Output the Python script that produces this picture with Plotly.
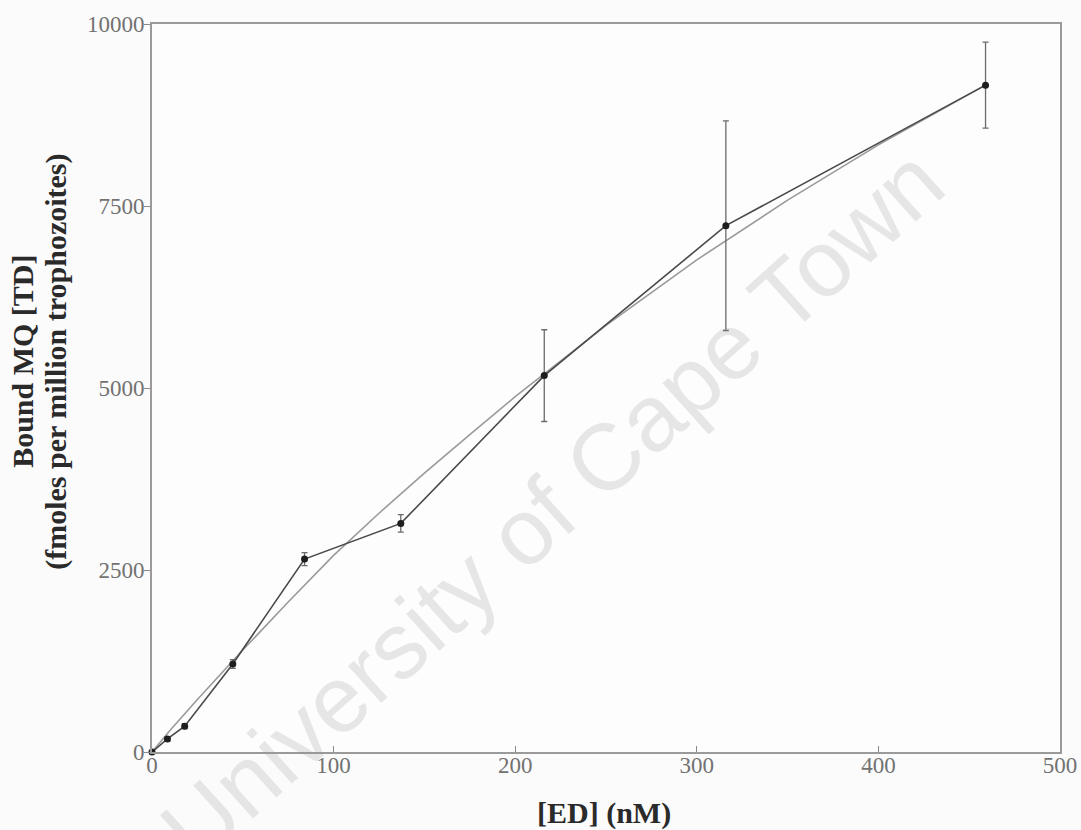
import plotly.graph_objects as go

# Measured binding: bound MQ vs. [ED] concentration (mean ± error)
ed_nM = [0, 8.5, 18, 44.5, 84, 137, 216, 316, 459]
bound_mq = [0, 180, 355, 1210, 2650, 3140, 5170, 7230, 9160]
bound_err = [0, 30, 35, 60, 90, 120, 630, 1440, 590]

# Fitted saturation curve
fit_ed_nM = [0, 10, 25, 50, 75, 100, 125, 150, 175, 200, 250, 300, 350, 400, 459]
fit_bound = [0, 300, 720, 1400, 2060, 2700, 3280, 3830, 4360, 4880, 5860, 6760, 7580, 8340, 9160]

x_ticks = [0, 100, 200, 300, 400, 500]
y_ticks = [0, 2500, 5000, 7500, 10000]

x_title = "[ED] (nM)"
y_title = ["Bound MQ [TD]", "(fmoles per million trophozoites)"]
watermark = "University of Cape Town"

serif = "Liberation Serif, Times New Roman, serif"

fig = go.Figure()

fig.add_trace(go.Scatter(
    x=fit_ed_nM, y=fit_bound, mode="lines",
    line=dict(color="#9a9a9a", width=1.6),
    hoverinfo="skip", showlegend=False,
))

fig.add_trace(go.Scatter(
    x=ed_nM, y=bound_mq, mode="lines+markers",
    line=dict(color="#4a4a4a", width=1.6),
    marker=dict(color="#1e1e1e", size=7, symbol="circle"),
    error_y=dict(type="data", array=bound_err, visible=True,
                 color="#6a6a6a", thickness=1.3, width=3),
    cliponaxis=False, showlegend=False,
))

axis_common = dict(
    showgrid=False, zeroline=False, automargin=False,
    showline=True, linecolor="#9a9a9a", linewidth=1.6, mirror=True,
    tickcolor="#8a8a8a", ticklen=6, tickwidth=1.2,
    tickfont=dict(family=serif, size=23, color="#727272"),
)

fig.update_xaxes(
    range=[0, 500], tickvals=x_ticks, ticktext=[str(v) for v in x_ticks],
    ticks="inside", ticklabelstandoff=-8, **axis_common,
)
fig.update_yaxes(
    range=[0, 10000], tickvals=y_ticks, ticktext=[str(v) for v in y_ticks],
    ticks="outside", ticklabelstandoff=-5, **axis_common,
)

title_font = dict(family=serif, size=30, color="#2a2a2a")

fig.add_annotation(
    text="<b>" + x_title + "</b>", xref="paper", yref="paper",
    x=0.498, y=-0.084, xanchor="center", yanchor="middle", showarrow=False,
    font=title_font,
)
# Two-line y-axis title, one annotation per line
for line_text, px in zip(y_title, [-0.1420, -0.1057]):
    fig.add_annotation(
        text="<b>" + line_text + "</b>", xref="paper", yref="paper",
        x=px, y=0.536, xanchor="center", yanchor="middle", showarrow=False,
        textangle=-90, font=title_font,
    )

fig.add_annotation(
    text=watermark, xref="paper", yref="paper",
    x=0.4405, y=0.339, xanchor="center", yanchor="middle", showarrow=False,
    textangle=-42,
    font=dict(family="Liberation Sans, Arial, sans-serif", size=94,
              color="rgba(150,150,150,0.22)"),
)

fig.update_layout(
    width=1081, height=830,
    margin=dict(l=152, r=21, t=24, b=78),
    paper_bgcolor="#fbfbfb", plot_bgcolor="#fdfdfd",
)

fig.write_html("out.html")
